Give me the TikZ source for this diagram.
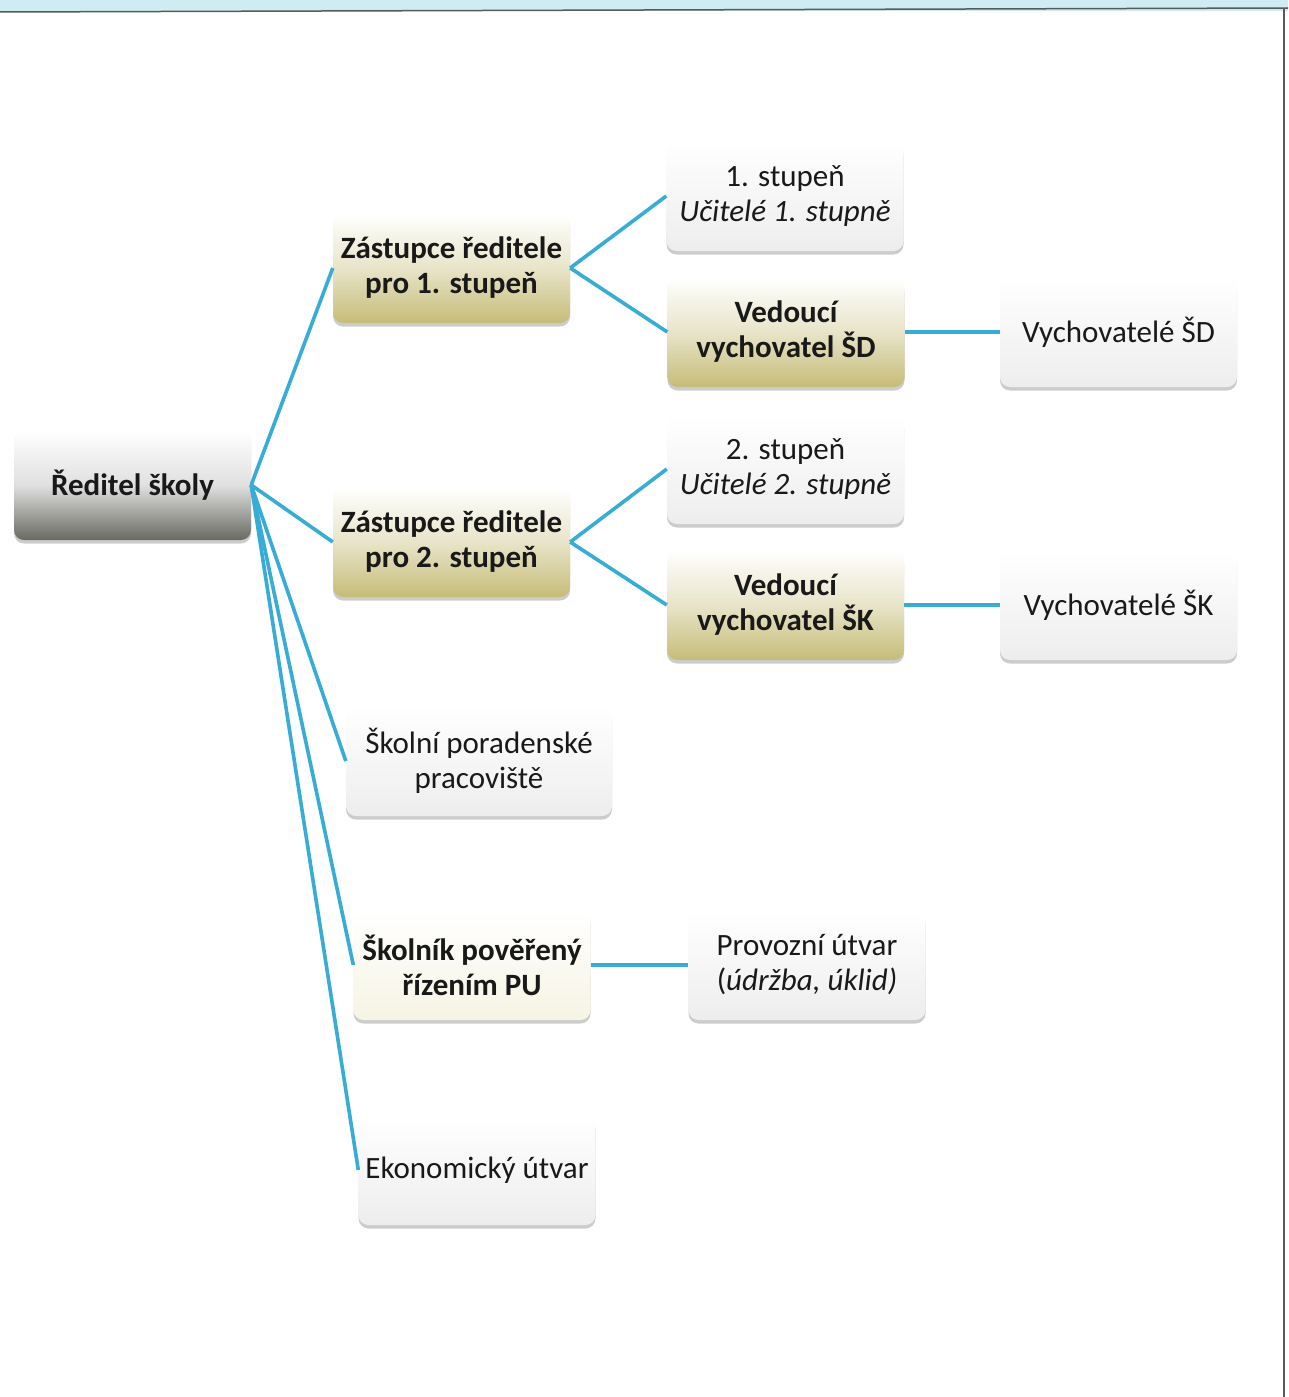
\documentclass[tikz,border=0pt]{standalone}
\usepackage{fontspec}
\setmainfont{Carlito}
\usetikzlibrary{shadows}
\definecolor{linkc}{RGB}{55,172,212}
\definecolor{khaki}{RGB}{198,188,120}
\definecolor{darkg}{RGB}{105,105,98}
\definecolor{cream}{RGB}{246,244,228}
\definecolor{band}{RGB}{206,236,242}
\definecolor{txt}{RGB}{25,25,25}
\tikzset{
  box/.style={rectangle, rounded corners=10pt, minimum width=237pt, minimum height=110pt,
    align=center, text=txt, font=\fontsize{31}{35}\selectfont, inner sep=2pt,
    drop shadow={opacity=0.4, shadow xshift=0pt, shadow yshift=-3.5pt}},
  plain/.style={box, top color=white, bottom color=white!93!black},
  khakibox/.style={box, top color=white, bottom color=khaki, middle color=white!60!khaki},
  topbox/.style={box, top color=white, bottom color=darkg, middle color=white!88!black},
  creambox/.style={box, top color=white, bottom color=cream},
  link/.style={draw=linkc, line width=3.6pt}
}
\begin{document}
\begin{tikzpicture}[x=1pt,y=-1pt]
\useasboundingbox (0,0) rectangle (1288,1397);
\fill[white] (0,0) rectangle (1288,1397);
\fill[band] (0,0) rectangle (1288,11);
\draw[gray!70!black, line width=1.5pt] (0,12) -- (1288,8);
\draw[gray!70!black, line width=1.2pt] (1284,8) -- (1284,1397);

\node[topbox]   (red) at (132.5,485) {\bfseries Ředitel školy};
\node[khakibox] (z1)  at (451.5,268) {\bfseries Zástupce ředitele\\\bfseries pro 1. stupeň};
\node[plain]    (s1)  at (785,196)   {1. stupeň\\\itshape Učitelé 1. stupně};
\node[khakibox] (vd)  at (786,332)   {\bfseries Vedoucí\\\bfseries vychovatel ŠD};
\node[plain]    (chd) at (1118.5,332) {Vychovatelé ŠD};
\node[khakibox] (z2)  at (451.5,542) {\bfseries Zástupce ředitele\\\bfseries pro 2. stupeň};
\node[plain]    (s2)  at (785.5,469) {2. stupeň\\\itshape Učitelé 2. stupně};
\node[khakibox] (vk)  at (785.5,605) {\bfseries Vedoucí\\\bfseries vychovatel ŠK};
\node[plain]    (chk) at (1118.5,605) {Vychovatelé ŠK};
\node[plain, minimum width=266pt] (spp) at (479,761) {Školní poradenské\\pracoviště};
\node[creambox] (sk)  at (472,965)   {\bfseries Školník pověřený\\\bfseries řízením PU};
\node[plain]    (pu)  at (807,965)   {Provozní útvar\\(\textit{údržba, úklid)}};
\node[plain]    (eko) at (477,1170)  {Ekonomický útvar};

\draw[link] (red.east) -- (z1.west);
\draw[link] (red.east) -- (z2.west);
\draw[link] (red.east) -- (spp.west);
\draw[link] (red.east) -- (sk.west);
\draw[link] (red.east) -- (eko.west);
\draw[link] (z1.east) -- (s1.west);
\draw[link] (z1.east) -- (vd.west);
\draw[link] (vd.east) -- (chd.west);
\draw[link] (z2.east) -- (s2.west);
\draw[link] (z2.east) -- (vk.west);
\draw[link] (vk.east) -- (chk.west);
\draw[link] (sk.east) -- (pu.west);
\end{tikzpicture}
\end{document}
